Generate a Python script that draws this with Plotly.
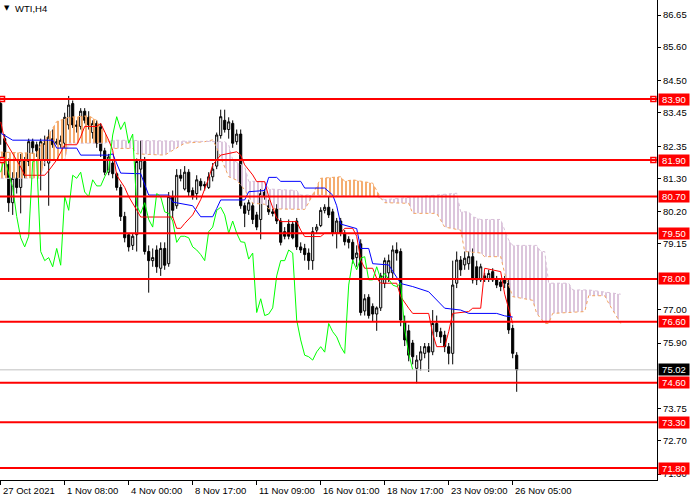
import plotly.graph_objects as go

# WTI H4 candles, bar 0 is the left edge of the chart
bar_open = [
    83.75, 82.60, 81.75, 80.50, 81.30, 81.00, 81.90, 81.85, 82.50, 82.40,
    81.90, 81.90, 81.80, 82.60, 82.45, 82.40, 82.45, 83.05, 83.75, 83.05,
    83.00, 83.50, 83.30, 82.80, 83.10, 83.00, 82.20, 81.50, 81.80, 81.45,
    81.00, 80.05, 79.45, 79.10, 79.45, 81.60, 81.85, 78.90, 78.60, 78.95,
    78.35, 79.00, 78.50, 80.70, 80.40, 81.40, 80.95, 81.50, 80.90, 80.80,
    81.20, 81.10, 81.00, 81.35, 81.70, 82.70, 83.20, 82.90, 83.10, 82.50,
    82.75, 80.40, 80.25, 80.40, 80.10, 79.95, 80.85, 80.40, 80.20, 80.30,
    79.90, 79.55, 79.80, 79.80, 79.90, 79.05, 79.00, 78.85, 78.60, 79.60,
    79.75, 80.25, 80.35, 80.20, 79.50, 79.90, 79.50, 79.30, 79.20, 78.70,
    79.15, 76.95, 77.40, 77.10, 76.85, 77.05, 77.85, 78.20, 78.20, 78.95,
    78.90, 76.60, 76.30, 75.90, 75.07, 75.34, 75.56, 75.78, 75.61, 76.54,
    76.27, 76.16, 75.78, 75.56, 77.86, 78.62, 78.46, 78.50, 78.73, 78.40,
    77.97, 78.10, 78.00, 78.24, 77.97, 77.90, 77.97, 77.86, 76.38, 75.50,
]
bar_high = [
    83.95, 82.75, 81.95, 81.50, 81.50, 82.10, 82.00, 82.60, 82.60, 82.50,
    82.60, 82.70, 82.90, 82.90, 82.60, 82.70, 83.45, 84.00, 83.85, 83.20,
    83.60, 83.60, 83.50, 83.20, 83.20, 83.10, 82.30, 82.10, 81.90, 81.50,
    81.10, 80.20, 79.50, 79.50, 81.95, 82.55, 82.00, 79.10, 79.00, 79.10,
    79.20, 79.20, 80.85, 80.90, 81.60, 81.60, 81.70, 81.60, 81.00, 81.40,
    81.30, 81.20, 81.50, 81.80, 82.80, 83.55, 83.55, 83.30, 83.20, 82.90,
    82.90, 80.50, 80.60, 80.50, 80.20, 80.95, 80.95, 80.60, 80.30, 80.45,
    80.00, 79.70, 79.95, 79.90, 80.00, 79.20, 79.15, 79.00, 79.70, 79.80,
    80.35, 80.45, 80.70, 80.30, 80.00, 80.00, 79.60, 79.40, 79.30, 79.10,
    79.30, 77.50, 77.50, 77.20, 77.10, 78.20, 78.70, 78.80, 79.10, 79.20,
    79.00, 76.80, 76.50, 76.00, 75.50, 75.80, 75.90, 75.90, 76.98, 76.80,
    76.40, 76.30, 75.90, 78.60, 78.90, 78.75, 78.90, 78.90, 79.00, 78.60,
    78.50, 78.20, 78.30, 78.35, 78.10, 78.00, 78.10, 78.00, 76.50, 75.60,
]
bar_low = [
    82.40, 81.40, 80.20, 80.10, 80.80, 80.15, 81.30, 81.70, 82.10, 82.00,
    80.90, 81.70, 80.40, 82.30, 82.40, 82.30, 82.30, 82.90, 82.95, 82.80,
    82.90, 83.10, 82.90, 82.60, 82.30, 82.00, 81.40, 81.40, 81.30, 80.90,
    79.90, 79.20, 78.90, 78.95, 78.90, 81.00, 78.80, 77.55, 78.40, 78.20,
    78.10, 78.30, 78.40, 80.00, 80.30, 81.20, 80.90, 80.70, 80.60, 80.60,
    80.90, 80.90, 80.95, 81.20, 81.60, 82.60, 82.80, 82.60, 82.30, 82.40,
    80.30, 79.70, 80.10, 79.80, 79.60, 79.30, 80.60, 80.10, 80.05, 79.80,
    79.10, 79.30, 79.30, 79.30, 78.95, 78.85, 78.60, 78.30, 78.30, 79.50,
    79.70, 80.15, 80.00, 79.40, 79.00, 79.40, 79.10, 79.00, 78.50, 78.40,
    76.80, 76.80, 76.70, 76.60, 76.30, 76.95, 77.70, 77.90, 78.00, 78.60,
    76.45, 75.80, 75.30, 75.20, 74.58, 75.00, 75.40, 74.95, 75.50, 76.10,
    75.90, 75.60, 75.20, 75.20, 77.70, 78.10, 78.30, 78.30, 77.85, 77.80,
    77.90, 77.90, 77.90, 77.90, 77.70, 77.60, 77.70, 76.20, 75.40, 74.30,
]
bar_close = [
    82.80, 82.00, 80.50, 81.30, 81.00, 81.90, 81.40, 82.50, 82.30, 82.20,
    82.50, 82.45, 82.65, 82.40, 82.50, 82.55, 83.30, 83.70, 83.05, 83.00,
    83.50, 83.20, 83.05, 83.10, 82.45, 82.20, 81.50, 82.00, 81.45, 81.00,
    80.05, 79.35, 79.05, 79.40, 81.85, 81.90, 78.90, 78.60, 78.70, 78.40,
    79.00, 78.45, 80.70, 80.25, 81.40, 81.30, 81.50, 80.85, 80.70, 81.25,
    81.05, 81.05, 81.35, 81.60, 82.72, 83.32, 82.90, 83.15, 82.45, 82.75,
    80.40, 80.15, 80.50, 79.95, 79.70, 80.80, 80.70, 80.20, 80.15, 79.90,
    79.20, 79.40, 79.40, 79.35, 79.05, 78.95, 78.80, 78.60, 79.55, 79.70,
    80.25, 80.35, 80.10, 79.50, 79.90, 79.50, 79.22, 79.20, 78.65, 78.85,
    76.90, 77.35, 76.80, 76.85, 77.05, 78.10, 78.60, 78.60, 78.95, 78.85,
    76.65, 76.00, 75.50, 75.45, 75.34, 75.61, 75.78, 75.60, 76.54, 76.27,
    76.10, 75.78, 75.56, 77.80, 78.62, 78.30, 78.68, 78.73, 77.97, 77.97,
    78.40, 78.00, 78.18, 77.97, 77.80, 77.75, 77.86, 76.33, 75.56, 75.02,
]

# Ichimoku lines (bar index, price)
tenkan_bar = [0, 1, 5, 6, 11, 12, 14, 15, 16, 19, 20, 21, 24, 25, 26, 27, 28, 29,
              31, 32, 34, 35, 43, 44, 45, 46, 48, 50, 52, 53, 55, 59, 60, 61, 63,
              64, 66, 67, 69, 70, 74, 75, 76, 80, 81, 85, 86, 88, 89, 90, 91, 93,
              94, 95, 99, 100, 102, 103, 107, 108, 109, 111, 112, 113, 117, 118,
              120, 121, 125, 126, 128]
tenkan_val = [83.15, 82.55, 81.67, 81.40, 81.40, 81.55, 81.90, 82.16, 82.40, 82.40,
              82.66, 83.00, 83.00, 83.10, 82.85, 82.55, 82.22, 81.40, 81.00, 80.70,
              80.26, 80.03, 80.03, 79.66, 79.66, 79.82, 80.10, 80.60, 81.30, 81.74,
              82.06, 82.17, 82.06, 81.74, 81.41, 81.19, 81.19, 80.70, 79.99, 79.88,
              79.88, 79.60, 79.39, 79.39, 79.50, 79.50, 79.66, 79.66, 79.40, 78.62,
              78.35, 78.35, 78.02, 77.86, 77.86, 77.42, 77.04, 76.87, 76.87, 76.20,
              75.78, 75.78, 76.27, 76.87, 76.93, 77.04, 77.04, 78.35, 78.24, 77.50,
              76.54]
kijun_bar = [0, 3, 13, 14, 19, 20, 27, 28, 30, 35, 37, 42, 43, 48, 50, 53, 54, 55,
             61, 62, 66, 67, 69, 70, 75, 76, 81, 83, 84, 85, 89, 90, 92, 93, 97,
             100, 103, 107, 111, 115, 117, 124, 126, 128]
kijun_val = [82.78, 82.55, 82.55, 82.29, 82.29, 82.06, 82.06, 82.10, 81.47, 81.45,
             80.75, 80.75, 80.52, 80.40, 80.04, 80.04, 80.31, 80.59, 80.59, 80.86,
             80.90, 81.33, 81.33, 81.20, 81.20, 80.98, 80.98, 80.75, 80.40, 79.80,
             79.65, 79.00, 79.00, 78.50, 78.46, 77.85, 77.75, 77.58, 77.04, 76.98,
             76.87, 76.87, 76.79, 76.75]
span_a_bar = [0, 9, 10, 12, 14, 17, 22, 24, 25, 26, 27,
              28, 33, 34, 41, 44, 46, 51, 53, 54, 55, 57, 59, 61, 63, 66, 67, 76, 77, 78,
              79, 80, 85, 86, 88, 90, 93, 94, 95,
              96, 102, 103, 109, 111, 115, 116, 120, 121, 125, 126, 128, 133, 134,
              136, 137, 138, 146, 147, 151, 152, 155]
span_a_val = [82.16, 82.12, 82.40, 82.72, 83.16, 83.30, 83.35, 83.20, 82.95, 82.80, 82.50,
              82.28, 82.28, 82.10, 82.06, 82.30, 82.45, 82.50, 82.56, 82.30, 82.00, 81.35,
              81.24, 80.92, 80.48, 80.45, 80.30, 80.28, 80.50, 80.75,
              81.00, 81.30, 81.35, 81.20, 81.25, 81.20, 81.14, 80.90, 80.65,
              80.50, 80.48, 80.15, 80.15, 79.70, 79.60, 78.90, 78.85, 78.73, 78.73,
              78.18, 77.42, 77.30, 76.87, 76.54, 76.54, 76.87, 76.93, 77.45, 77.45,
              77.20, 76.54]
span_b_bar = [0, 10, 11, 16, 17, 26, 27,
              28, 56, 57, 58, 61, 62, 66, 67, 74, 75, 78,
              94, 95,
              96, 114, 115, 117, 118, 120, 125, 126, 127, 128, 134, 135, 136, 137,
              142, 143, 147, 155]
span_b_val = [81.30, 81.30, 81.90, 81.90, 82.45, 82.45, 82.50,
              82.55, 82.50, 82.40, 81.90, 81.68, 81.20, 81.20, 80.95, 80.90, 80.75, 80.75,
              80.70, 80.65,
              80.60, 80.81, 80.20, 80.20, 80.04, 79.95, 79.95, 79.60, 79.28, 79.10,
              79.10, 78.90, 78.90, 77.86, 77.86, 77.64, 77.64, 77.50]
cloud_cross = [0, 27, 78, 95, 155]  # bars where span A meets span B

level_prices = [83.90, 81.90, 80.70, 79.50, 78.00, 76.60, 74.60, 73.30, 71.80]
selected_levels = [83.90, 81.90]
bid_price = 75.02

price_ticks = [86.65, 85.60, 84.50, 83.45, 82.35, 81.30, 80.20, 79.15, 77.00,
               75.90, 73.75, 72.70, 71.60]
date_bars = [0, 16, 32, 48, 64, 80, 96, 112, 128]
date_labels = ["27 Oct 2021", "1 Nov 08:00", "4 Nov 00:00", "8 Nov 17:00",
               "11 Nov 09:00", "16 Nov 01:00", "18 Nov 17:00", "23 Nov 09:00",
               "26 Nov 05:00"]

CHIKOU_LAG = 26
X_RANGE = [-0.175, 164.075]  # 4 px per bar
Y_RANGE = [71.408, 87.146]
FONT = "Liberation Sans"

bars = list(range(len(bar_close)))
fig = go.Figure()

# cloud hatching, one polygon between each pair of crossings
for lo, hi in zip(cloud_cross[:-1], cloud_cross[1:]):
    a = [(b, v) for b, v in zip(span_a_bar, span_a_val) if lo <= b <= hi]
    s = [(b, v) for b, v in zip(span_b_bar, span_b_val) if lo <= b <= hi]
    above = sum(v for _, v in a) / len(a) > sum(v for _, v in s) / len(s)
    colour = "#F4A460" if above else "#D8BFD8"
    poly = a + s[::-1]
    fig.add_trace(go.Scatter(
        x=[p[0] for p in poly], y=[p[1] for p in poly],
        mode="none", fill="toself", fillcolor="rgba(0,0,0,0)",
        fillpattern=dict(shape="|", fgcolor=colour, fgopacity=1, size=4,
                         solidity=0.45),
        hoverinfo="skip",
    ))

fig.add_trace(go.Scatter(x=span_a_bar, y=span_a_val, mode="lines",
                         line=dict(color="#F4A460", width=1, dash="dot")))
fig.add_trace(go.Scatter(x=span_b_bar, y=span_b_val, mode="lines",
                         line=dict(color="#D8BFD8", width=1, dash="dot")))

fig.add_trace(go.Candlestick(
    x=bars, open=bar_open, high=bar_high, low=bar_low, close=bar_close,
    increasing=dict(line=dict(color="black", width=1), fillcolor="white"),
    decreasing=dict(line=dict(color="black", width=1), fillcolor="black"),
    whiskerwidth=0,
))

fig.add_trace(go.Scatter(x=tenkan_bar, y=tenkan_val, mode="lines",
                         line=dict(color="#FF0000", width=1)))
fig.add_trace(go.Scatter(x=kijun_bar, y=kijun_val, mode="lines",
                         line=dict(color="#0000FF", width=1)))
fig.add_trace(go.Scatter(x=[b - CHIKOU_LAG for b in bars[CHIKOU_LAG:]],
                         y=bar_close[CHIKOU_LAG:], mode="lines",
                         line=dict(color="#00FF00", width=1)))

# bid line and horizontal levels
fig.add_hline(y=bid_price, line=dict(color="#C0C0C0", width=1))
for lv in level_prices:
    fig.add_hline(y=lv, line=dict(color="#FF0000", width=2))

# little handles on the selected lines
for lv in selected_levels:
    fig.add_trace(go.Scatter(
        x=[X_RANGE[0] + 0.5, X_RANGE[1] - 0.9], y=[lv, lv], mode="markers",
        marker=dict(symbol="square", size=5, color="white",
                    line=dict(color="#FF0000", width=1.5)),
        cliponaxis=False,
    ))

annotations = []
for lv in level_prices:
    annotations.append(dict(
        x=1, xref="paper", y=lv, yref="y", xanchor="left", yanchor="middle",
        xshift=1, text=f"{lv:.2f}", showarrow=False, bgcolor="#FF0000",
        width=30, borderpad=0, font=dict(family=FONT, size=9.5, color="white"),
    ))
annotations.append(dict(
    x=1, xref="paper", y=bid_price, yref="y", xanchor="left", yanchor="middle",
    xshift=1, text=f"{bid_price:.2f}", showarrow=False, bgcolor="black",
    width=30, borderpad=0, font=dict(family=FONT, size=9.5, color="white"),
))
for b, lab in zip(date_bars, date_labels):
    annotations.append(dict(
        x=b, xref="x", y=0, yref="paper", xanchor="left", yanchor="top",
        yshift=-3, text=lab, showarrow=False,
        font=dict(family=FONT, size=9.5, color="black"),
    ))
annotations.append(dict(
    x=0, xref="paper", y=1, yref="paper", xanchor="left", yanchor="top",
    xshift=2, yshift=-2, text="▼", showarrow=False,
    font=dict(family="DejaVu Sans", size=7, color="black"),
))
annotations.append(dict(
    x=0, xref="paper", y=1, yref="paper", xanchor="left", yanchor="top",
    xshift=13, yshift=-1, text="WTI,H4", showarrow=False,
    font=dict(family=FONT, size=9.5, color="black"),
))

fig.update_layout(
    width=700, height=500,
    margin=dict(l=0, r=43, t=0, b=20),
    paper_bgcolor="white", plot_bgcolor="white",
    showlegend=False, boxgap=0.25,
    font=dict(family=FONT, size=9.5, color="black"),
    annotations=annotations,
    xaxis=dict(
        range=X_RANGE, showgrid=False, zeroline=False,
        showline=True, linecolor="black", linewidth=1,
        tickvals=date_bars, ticks="outside", ticklen=4, tickcolor="black",
        showticklabels=False, rangeslider=dict(visible=False),
    ),
    yaxis=dict(
        range=Y_RANGE, side="right", showgrid=False, zeroline=False,
        showline=True, linecolor="black", linewidth=1,
        tickvals=price_ticks, ticktext=[f"{p:.2f}" for p in price_ticks],
        ticks="outside", ticklen=3, tickcolor="black",
    ),
)

# the page's default body margin would push the chart off the window
fig.write_html("out.html", config={"displayModeBar": False},
               post_script="document.body.style.margin='0px';")
